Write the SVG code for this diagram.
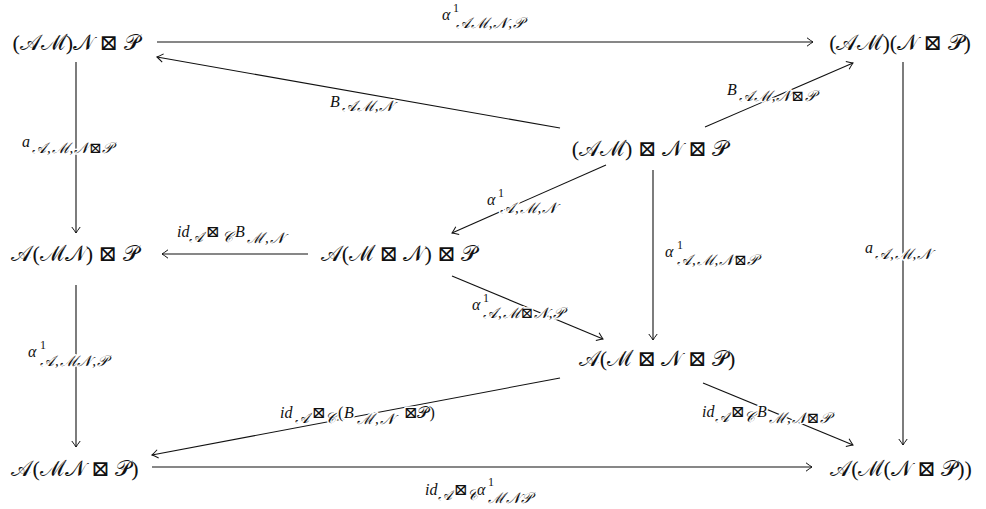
<svg xmlns="http://www.w3.org/2000/svg" width="986" height="509" viewBox="0 0 986 509">
<defs>
<marker id="ah" viewBox="-8 -5 10 10" refX="0" refY="0" markerWidth="10" markerHeight="10" orient="auto" markerUnits="userSpaceOnUse">
<path d="M-6,-4.2 Q-1.8,-1 0,0 Q-1.8,1 -6,4.2" fill="none" stroke="#111" stroke-width="1"/>
</marker>
<style>
.e{stroke:#111;stroke-width:1.1;fill:none;marker-end:url(#ah)}
.n{font-family:"Liberation Serif","DejaVu Serif",serif;font-size:22px;fill:#111;text-anchor:middle}
.l{font-family:"Liberation Serif","DejaVu Serif",serif;font-size:16px;font-style:italic;fill:#111;stroke:#fff;stroke-width:3;paint-order:stroke;stroke-linejoin:round}
.s{font-size:15px;letter-spacing:0.9px}
.p{font-size:12px;font-style:normal}
.u{font-style:normal}
</style>
</defs>
<rect width="986" height="509" fill="#fff"/>
<g id="connectors">
<line class="e" x1="157" y1="42" x2="813" y2="42"/>
<line class="e" x1="560" y1="128" x2="157" y2="57"/>
<line class="e" x1="705" y1="127" x2="853" y2="63"/>
<line class="e" x1="76" y1="62" x2="76" y2="233"/>
<line class="e" x1="903" y1="62" x2="903" y2="445"/>
<line class="e" x1="606" y1="165" x2="452" y2="233"/>
<line class="e" x1="308" y1="254" x2="162" y2="254"/>
<line class="e" x1="653" y1="170" x2="653" y2="340"/>
<line class="e" x1="452" y1="276" x2="603" y2="339"/>
<line class="e" x1="76" y1="285" x2="76" y2="447"/>
<line class="e" x1="560" y1="378" x2="152" y2="455"/>
<line class="e" x1="703" y1="383" x2="853" y2="445"/>
<line class="e" x1="152" y1="467" x2="812" y2="467"/>
</g>
<g id="labels">
<text class="l"><tspan x="442" y="20">α</tspan><tspan class="p" x="453" y="12">1</tspan><tspan class="s" x="456" y="28">𝒜ℳ,𝒩,𝒫</tspan></text>
<text class="l"><tspan x="330" y="107">B</tspan><tspan class="s" x="342" y="111">𝒜ℳ,𝒩</tspan></text>
<text class="l"><tspan x="727" y="95">B</tspan><tspan class="s" x="739" y="101">𝒜ℳ,𝒩⊠𝒫</tspan></text>
<text class="l"><tspan x="22" y="147">a</tspan><tspan class="s" x="32" y="153">𝒜,ℳ,𝒩⊠𝒫</tspan></text>
<text class="l"><tspan x="865" y="253">a</tspan><tspan class="s" x="875" y="259">𝒜,ℳ,𝒩</tspan></text>
<text class="l"><tspan x="487" y="205">α</tspan><tspan class="p" x="498" y="197">1</tspan><tspan class="s" x="500" y="213">𝒜,ℳ,𝒩</tspan></text>
<text class="l"><tspan x="177" y="237">id</tspan><tspan class="s" x="189" y="242">𝒜</tspan><tspan class="u" x="206" y="237">⊠</tspan><tspan class="s" x="222" y="242">𝒞</tspan><tspan x="235" y="237">B</tspan><tspan class="s" x="247" y="243">ℳ,𝒩</tspan></text>
<text class="l"><tspan x="665" y="257">α</tspan><tspan class="p" x="677" y="249">1</tspan><tspan class="s" x="677" y="265">𝒜,ℳ,𝒩⊠𝒫</tspan></text>
<text class="l"><tspan x="472" y="310">α</tspan><tspan class="p" x="483" y="302">1</tspan><tspan class="s" x="483" y="318">𝒜,ℳ⊠𝒩,𝒫</tspan></text>
<text class="l"><tspan x="28" y="357">α</tspan><tspan class="p" x="40" y="349">1</tspan><tspan class="s" x="40" y="366">𝒜,ℳ𝒩,𝒫</tspan></text>
<text class="l"><tspan x="280" y="418">id</tspan><tspan class="s" x="295" y="423">𝒜</tspan><tspan class="u" x="312" y="418">⊠</tspan><tspan class="s" x="325" y="423">𝒞</tspan><tspan class="u" x="338" y="418">(</tspan><tspan x="344" y="418">B</tspan><tspan class="s" x="357" y="424">ℳ,𝒩</tspan><tspan class="u" x="404" y="418">⊠𝒫)</tspan></text>
<text class="l"><tspan x="702" y="417">id</tspan><tspan class="s" x="715" y="422">𝒜</tspan><tspan class="u" x="731" y="417">⊠</tspan><tspan class="s" x="744" y="422">𝒞</tspan><tspan x="757" y="417">B</tspan><tspan class="s" x="769" y="423">ℳ,𝒩⊠𝒫</tspan></text>
<text class="l"><tspan x="425" y="495">id</tspan><tspan class="s" x="438" y="500">𝒜</tspan><tspan class="u" x="454" y="495">⊠</tspan><tspan class="s" x="467" y="500">𝒞</tspan><tspan x="477" y="495">α</tspan><tspan class="p" x="488" y="486">1</tspan><tspan class="s" x="488" y="503">ℳ𝒩𝒫</tspan></text>
</g>
<g id="n1"><text class="n" x="76" y="50">(𝒜ℳ)𝒩 ⊠ 𝒫</text></g>
<g id="n2"><text class="n" x="900" y="50">(𝒜ℳ)(𝒩 ⊠ 𝒫)</text></g>
<g id="n3"><text class="n" x="650" y="156">(𝒜ℳ) ⊠ 𝒩 ⊠ 𝒫</text></g>
<g id="n4"><text class="n" x="75" y="261">𝒜(ℳ𝒩) ⊠ 𝒫</text></g>
<g id="n5"><text class="n" x="399" y="261">𝒜(ℳ ⊠ 𝒩) ⊠ 𝒫</text></g>
<g id="n6"><text class="n" x="657" y="366">𝒜(ℳ ⊠ 𝒩 ⊠ 𝒫)</text></g>
<g id="n7"><text class="n" x="75" y="476">𝒜(ℳ𝒩 ⊠ 𝒫)</text></g>
<g id="n8"><text class="n" x="901" y="476">𝒜(ℳ(𝒩 ⊠ 𝒫))</text></g>
</svg>
